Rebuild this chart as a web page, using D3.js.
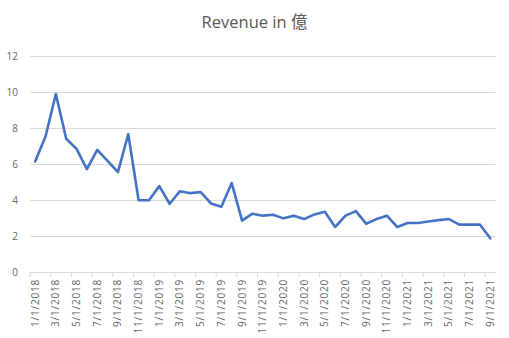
<!DOCTYPE html>
<html>
<head>
<meta charset="utf-8">
<script src="https://cdn.jsdelivr.net/npm/d3@7/dist/d3.min.js"></script>
<style>
  html, body { margin: 0; padding: 0; background: #fff; }
  svg { display: block; }
  text { font-family: "Open Sans", "Noto Sans", "Noto Sans CJK SC", sans-serif; }
</style>
</head>
<body>
<svg id="chart" width="509" height="338"></svg>
<script>
// Monthly revenue (in 億), Jan 2018 – Sep 2021
const months = [];
for (let yr = 2018; yr <= 2021; yr++) {
  for (let m = 1; m <= 12; m++) {
    if (yr === 2021 && m > 9) break;
    months.push(m + "/1/" + yr);
  }
}
const revenue = [
  6.14, 7.53, 9.89, 7.40, 6.84, 5.71, 6.79, 6.17, 5.55, 7.66, 3.99, 3.99,
  4.77, 3.79, 4.49, 4.38, 4.44, 3.81, 3.62, 4.94, 2.85, 3.24, 3.13, 3.18,
  2.98, 3.13, 2.94, 3.20, 3.35, 2.50, 3.13, 3.38, 2.68, 2.94, 3.13, 2.50,
  2.72, 2.72, 2.81, 2.88, 2.94, 2.63, 2.63, 2.63, 1.87
];
const yTicks = [0, 2, 4, 6, 8, 10, 12];
const title = "Revenue in 億";

const svg = d3.select("#chart");
const plotLeft = 30, plotRight = 495.5, plotTop = 56, plotBottom = 272;

const x = d3.scaleBand().domain(months).range([plotLeft, plotRight]).paddingInner(0).paddingOuter(0);
const y = d3.scaleLinear().domain([0, 12]).range([plotBottom, plotTop]);

// Title
svg.append("text")
  .attr("x", 254.5).attr("y", 28)
  .attr("text-anchor", "middle")
  .attr("font-size", 16.5)
  .attr("fill", "#595959")
  .text(title);

// Horizontal gridlines and y labels
const yAxis = d3.axisLeft(y).tickValues(yTicks).tickSize(-(plotRight - plotLeft)).tickPadding(12);
const gy = svg.append("g").attr("transform", `translate(${plotLeft},0)`).call(yAxis);
gy.select(".domain").remove();
gy.selectAll(".tick line").attr("stroke", "#d9d9d9").attr("stroke-width", 1);
gy.selectAll(".tick text")
  .attr("font-size", 10)
  .attr("fill", "#666");

// Category axis: labels every second month, tick marks on category boundaries
const labelled = months.filter((d, i) => i % 2 === 0);
const xAxis = d3.axisBottom(x).tickValues(labelled).tickSize(5).tickPadding(0);
const gx = svg.append("g").attr("transform", `translate(0,${plotBottom})`).call(xAxis);
gx.select(".domain").attr("stroke", "#d9d9d9").attr("d", `M${plotLeft},0.5H${plotRight}`);
gx.selectAll(".tick line")
  .attr("stroke", "#d9d9d9")
  .attr("x1", -x.bandwidth() / 2).attr("x2", -x.bandwidth() / 2);
gx.selectAll(".tick text")
  .attr("font-size", 10)
  .attr("fill", "#666")
  .attr("letter-spacing", 0.8)
  .attr("text-anchor", "end")
  .attr("transform", "rotate(-90)")
  .attr("x", -7).attr("y", 0).attr("dy", "0.35em");

// Revenue line
const line = d3.line()
  .x((d, i) => x(months[i]) + x.bandwidth() / 2)
  .y(d => y(d));
svg.append("path")
  .datum(revenue)
  .attr("fill", "none")
  .attr("stroke", "#4472C4")
  .attr("stroke-width", 2.6)
  .attr("stroke-linejoin", "round")
  .attr("stroke-linecap", "round")
  .attr("d", line);
</script>
</body>
</html>
